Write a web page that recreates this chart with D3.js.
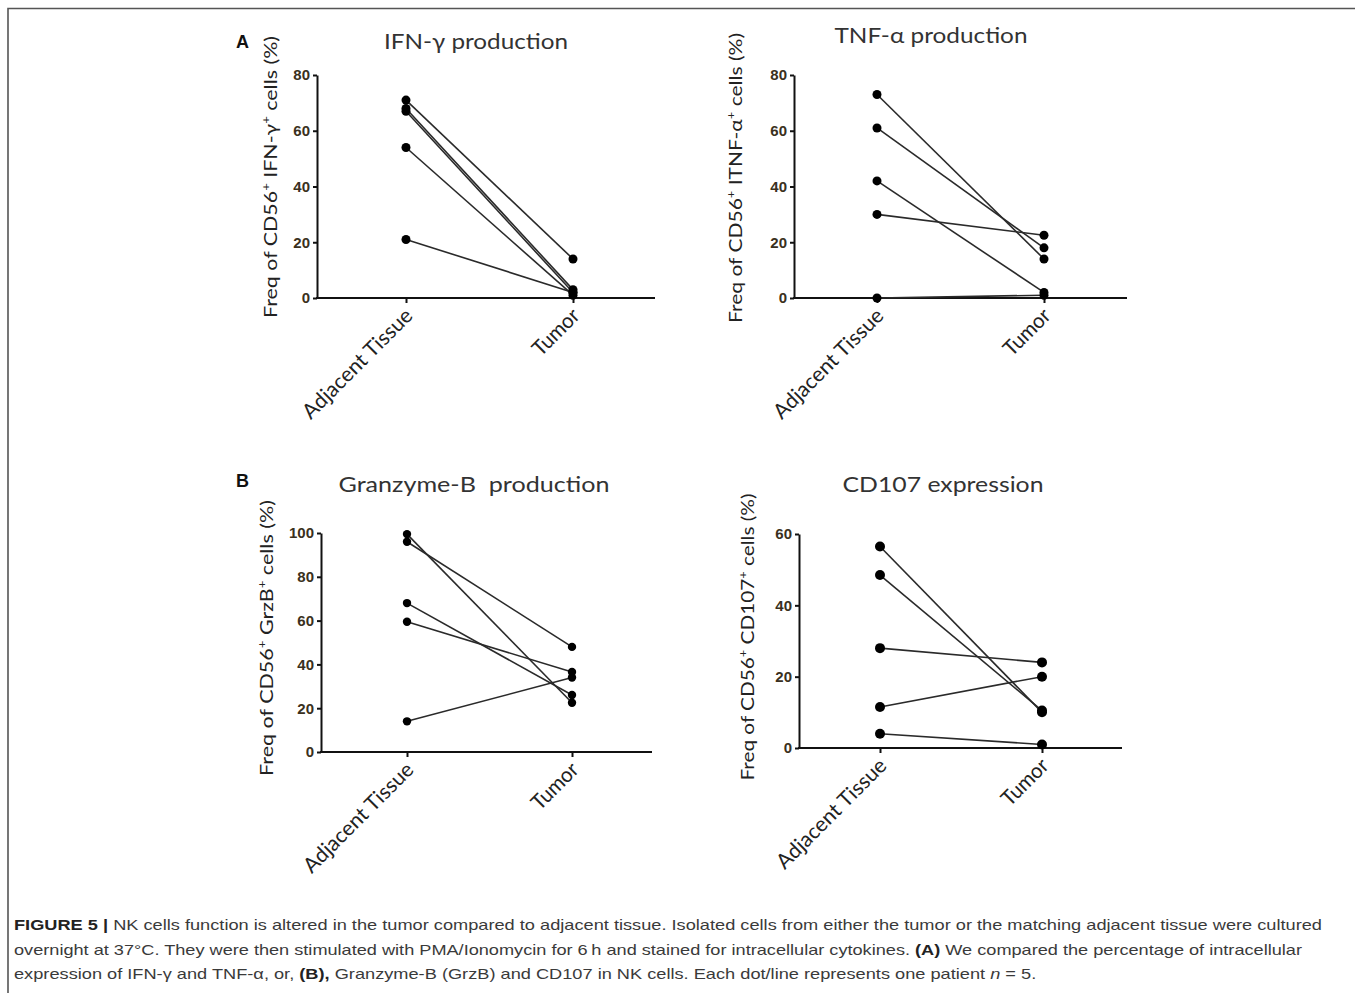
<!DOCTYPE html>
<html>
<head>
<meta charset="utf-8">
<script src="https://cdn.jsdelivr.net/npm/d3@7"></script>
<style>
  body { margin: 0; background: #fff; }
  svg { display: block; }
</style>
</head>
<body>
<div id="chart"></div>
<script>
const categories = ['Adjacent Tissue', 'Tumor']

// paired values, one entry per patient (adjacent -> tumor)
const ifnAdjacent = [71, 68, 67, 54, 21]
const ifnTumor = [14, 3, 2, 1, 2]
const tnfAdjacent = [73, 61, 42, 30, 0]
const tnfTumor = [14, 18, 2, 22.5, 1]
const grzAdjacent = [96, 99.5, 68, 59.5, 14]
const grzTumor = [48, 22.5, 26, 36.5, 34]
const cd107Adjacent = [56.5, 48.5, 28, 11.5, 4]
const cd107Tumor = [10, 10.5, 24, 20, 1]

const ticks80 = [0, 20, 40, 60, 80]
const ticks100 = [0, 20, 40, 60, 80, 100]
const ticks60 = [0, 20, 40, 60]

const titles = ['IFN-γ production', 'TNF-α production', 'Granzyme-B  production', 'CD107 expression']
// '^' marks a superscript plus
const yLabels = [
  'Freq of CD56^ IFN-γ^ cells (%)',
  'Freq of CD56^ ITNF-α^ cells (%)',
  'Freq of CD56^ GrzB^ cells (%)',
  'Freq of CD56^ CD107^ cells (%)'
]
const panelLetters = ['A', 'B']

const w = 1355
const h = 993

const svg = d3.select('#chart')
  .append('svg')
  .attr('width', w)
  .attr('height', h)

// frame (top and left edge only)
svg.append('path')
  .attr('d', 'M8,993 V8.5 H1355')
  .attr('fill', 'none')
  .attr('stroke', '#555')
  .attr('stroke-width', 1.6)

const panels = [
  { adj: ifnAdjacent, tum: ifnTumor, ticks: ticks80, title: titles[0], ylabel: yLabels[0],
    x0: 317, x1: 655, xa: 406, xt: 573, yTop: 75, yBot: 298, r: 4.5,
    tx: 476, ty: 49, tw: 184, lx: 277, ly: 177, lw: 282 },
  { adj: tnfAdjacent, tum: tnfTumor, ticks: ticks80, title: titles[1], ylabel: yLabels[1],
    x0: 794, x1: 1127, xa: 877, xt: 1044, yTop: 75, yBot: 298, r: 4.5,
    tx: 931, ty: 43, tw: 193, lx: 742, ly: 178, lw: 290 },
  { adj: grzAdjacent, tum: grzTumor, ticks: ticks100, title: titles[2], ylabel: yLabels[2],
    x0: 321, x1: 652, xa: 407, xt: 572, yTop: 533, yBot: 752, r: 4.2,
    tx: 474, ty: 492, tw: 271, lx: 273, ly: 638, lw: 276 },
  { adj: cd107Adjacent, tum: cd107Tumor, ticks: ticks60, title: titles[3], ylabel: yLabels[3],
    x0: 799, x1: 1122, xa: 880, xt: 1042, yTop: 534, yBot: 748, r: 5,
    tx: 943, ty: 492, tw: 201, lx: 754, ly: 637, lw: 287 }
]

const fontMain = 'Lato, "Open Sans", sans-serif'

panels.forEach(p => {
  const g = svg.append('g')

  const xScale = d3.scalePoint()
    .domain(categories)
    .range([p.xa, p.xt])

  const yScale = d3.scaleLinear()
    .domain([0, d3.max(p.ticks)])
    .range([p.yBot, p.yTop])

  // y axis
  const yAxis = d3.axisLeft(yScale)
    .tickValues(p.ticks)
    .tickSize(4)
    .tickSizeOuter(0)
    .tickPadding(3)

  const ya = g.append('g')
    .attr('transform', 'translate(' + p.x0 + ',0)')
    .call(yAxis)
  ya.select('.domain').attr('stroke', '#111').attr('stroke-width', 2)
  ya.selectAll('.tick line').attr('stroke', '#111').attr('stroke-width', 2)
  ya.selectAll('.tick text')
    .attr('fill', '#3a3020')
    .attr('font-family', '"Liberation Sans Narrow", "Arial Narrow", sans-serif')
    .attr('font-weight', 'bold')
    .attr('font-size', 15)

  // x axis: long baseline, ticks at the two categories
  g.append('line')
    .attr('x1', p.x0 - 1).attr('x2', p.x1)
    .attr('y1', yScale(0)).attr('y2', yScale(0))
    .attr('stroke', '#111')
    .attr('stroke-width', 2)

  const xAxis = d3.axisBottom(xScale)
    .tickSize(5)
    .tickSizeOuter(0)
    .tickFormat('')

  const xa = g.append('g')
    .attr('transform', 'translate(0,' + yScale(0) + ')')
    .call(xAxis)
  xa.select('.domain').remove()
  xa.selectAll('.tick line').attr('stroke', '#111').attr('stroke-width', 2)

  const catLabelLen = { 'Adjacent Tissue': 146, 'Tumor': 57 }
  g.selectAll('.xlab')
    .data(categories)
    .enter()
    .append('text')
    .attr('class', 'xlab')
    .attr('transform', d => 'translate(' + (xScale(d) + 8) + ',' + (yScale(0) + 19) + ') rotate(-45)')
    .attr('text-anchor', 'end')
    .attr('font-family', fontMain)
    .attr('font-size', 21)
    .attr('fill', '#222')
    .attr('textLength', d => catLabelLen[d])
    .attr('lengthAdjust', 'spacingAndGlyphs')
    .text(d => d)

  // paired lines
  const pairs = p.adj.map((v, i) => [v, p.tum[i]])
  g.selectAll('.pair')
    .data(pairs)
    .enter()
    .append('line')
    .attr('class', 'pair')
    .attr('x1', xScale(categories[0]))
    .attr('x2', xScale(categories[1]))
    .attr('y1', d => yScale(d[0]))
    .attr('y2', d => yScale(d[1]))
    .attr('stroke', '#2a2a2a')
    .attr('stroke-width', 1.6)

  const dots = []
  pairs.forEach(d => {
    dots.push({ c: categories[0], v: d[0] })
    dots.push({ c: categories[1], v: d[1] })
  })
  g.selectAll('circle')
    .data(dots)
    .enter()
    .append('circle')
    .attr('cx', d => xScale(d.c))
    .attr('cy', d => yScale(d.v))
    .attr('r', p.r)
    .attr('fill', '#000')

  // title
  g.append('text')
    .attr('x', p.tx)
    .attr('y', p.ty)
    .attr('text-anchor', 'middle')
    .attr('font-family', fontMain)
    .attr('font-size', 22)
    .attr('fill', '#333')
    .style('white-space', 'pre')
    .attr('textLength', p.tw)
    .attr('lengthAdjust', 'spacingAndGlyphs')
    .text(p.title)

  // y label with superscripts
  const lab = g.append('text')
    .attr('transform', 'translate(' + p.lx + ',' + p.ly + ') rotate(-90)')
    .attr('text-anchor', 'middle')
    .attr('font-family', fontMain)
    .attr('font-size', 18)
    .attr('fill', '#222')
    .attr('textLength', p.lw)
    .attr('lengthAdjust', 'spacingAndGlyphs')
  const parts = p.ylabel.split('^')
  parts.forEach((s, i) => {
    lab.append('tspan').attr('dy', i === 0 ? 0 : 7).text(s)
    if (i < parts.length - 1) {
      lab.append('tspan').attr('dy', -7).attr('font-size', 11).text('+')
    }
  })
})

// panel letters
svg.selectAll('.letter')
  .data(panelLetters)
  .enter()
  .append('text')
  .attr('x', 236)
  .attr('y', (d, i) => i === 0 ? 48 : 487)
  .attr('font-family', '"Liberation Sans", Arial, sans-serif')
  .attr('font-weight', 'bold')
  .attr('font-size', 18)
  .attr('fill', '#111')
  .text(d => d)

// caption
const captionLines = [
  [['FIGURE 5 |', 'b'], [' NK cells function is altered in the tumor compared to adjacent tissue. Isolated cells from either the tumor or the matching adjacent tissue were cultured', '']],
  [['overnight at 37°C. They were then stimulated with PMA/Ionomycin for 6\u2009h and stained for intracellular cytokines. ', ''], ['(A)', 'b'], [' We compared the percentage of intracellular', '']],
  [['expression of IFN-γ and TNF-α, or, ', ''], ['(B),', 'b'], [' Granzyme-B (GrzB) and CD107 in NK cells. Each dot/line represents one patient ', ''], ['n', 'i'], [' = 5.', '']]
]
const captionY = [930, 954.5, 979]
const captionTarget = [1308, 1288, null]

const capTexts = captionLines.map((line, li) => {
  const t = svg.append('text')
    .attr('x', 14)
    .attr('y', captionY[li])
    .attr('font-family', '"Liberation Sans", Arial, sans-serif')
    .attr('font-size', 15)
    .attr('fill', '#3a3a3a')
    .style('white-space', 'pre')
  line.forEach(seg => {
    const ts = t.append('tspan').text(seg[0])
    if (seg[1] === 'b') ts.attr('font-weight', 'bold').attr('fill', '#222')
    if (seg[1] === 'i') ts.attr('font-style', 'italic')
  })
  return t
})
const ratio = captionTarget[0] / capTexts[0].node().getComputedTextLength()
capTexts.forEach((t, i) => {
  const len = captionTarget[i] || t.node().getComputedTextLength() * ratio
  t.attr('textLength', len).attr('lengthAdjust', 'spacingAndGlyphs')
})
</script>
</body>
</html>
